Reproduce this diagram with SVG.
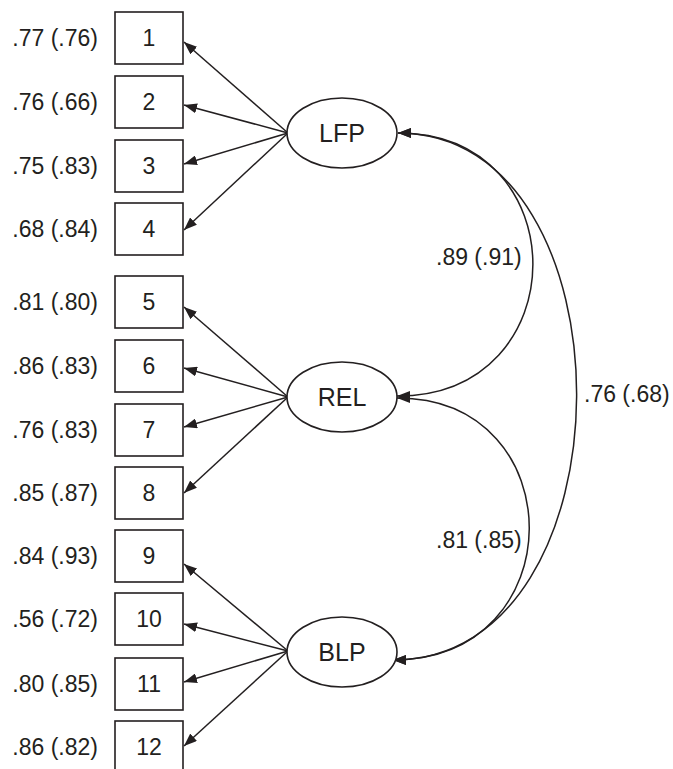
<svg xmlns="http://www.w3.org/2000/svg" width="673" height="769" viewBox="0 0 673 769">
<style>
.box{fill:#fff;stroke:#231f20;stroke-width:1.6}
.lat{fill:#fff;stroke:#231f20;stroke-width:1.6}
.ln{fill:none;stroke:#231f20;stroke-width:1.5}
.t{font-family:"Liberation Sans",Arial,sans-serif;font-size:23px;fill:#231f20}
.lt{font-family:"Liberation Sans",Arial,sans-serif;font-size:25px;fill:#231f20;text-anchor:middle}
.n{text-anchor:middle}
.e{text-anchor:end}
</style>
<defs>
<marker id="ah" viewBox="0 0 13 10" refX="13" refY="5" markerWidth="13" markerHeight="10" markerUnits="userSpaceOnUse" orient="auto-start-reverse">
<path d="M0,0 L13,5 L0,10 z" fill="#231f20"/>
</marker>
</defs>
<rect width="673" height="769" fill="#fff"/>
<g id="connectors" class="ln" marker-end="url(#ah)">
<line x1="288" y1="133" x2="184" y2="42"/>
<line x1="288" y1="133" x2="184" y2="105"/>
<line x1="288" y1="133" x2="184" y2="164"/>
<line x1="288" y1="133" x2="184" y2="230"/>
<line x1="288" y1="397" x2="184" y2="307"/>
<line x1="288" y1="397" x2="184" y2="368"/>
<line x1="288" y1="397" x2="184" y2="427"/>
<line x1="288" y1="397" x2="184" y2="493"/>
<line x1="288" y1="651" x2="184" y2="564"/>
<line x1="288" y1="651" x2="184" y2="624"/>
<line x1="288" y1="651" x2="184" y2="682"/>
<line x1="288" y1="651" x2="184" y2="746"/>
<path d="M398,133 C578,133 578,396 397,396" marker-start="url(#ah)"/>
<path d="M397,398 C574,398 574,660 393,660" marker-start="url(#ah)"/>
<path d="M398,133 C637,133 637,660 393,660" marker-start="url(#ah)"/>
</g>
<g id="cov-labels" class="t">
<text x="436" y="265">.89 (.91)</text>
<text x="436" y="548">.81 (.85)</text>
<text x="584" y="402">.76 (.68)</text>
</g>
<g id="LFP"><ellipse class="lat" cx="342" cy="133" rx="55" ry="35"/><text class="lt" x="342" y="142">LFP</text></g>
<g id="REL"><ellipse class="lat" cx="342" cy="397" rx="55" ry="35"/><text class="lt" x="342" y="406">REL</text></g>
<g id="BLP"><ellipse class="lat" cx="342" cy="652" rx="55" ry="35"/><text class="lt" x="342" y="661">BLP</text></g>
<g id="v1"><rect class="box" x="115" y="12" width="68" height="52"/><text class="t n" x="149" y="46">1</text><text class="t e" x="98" y="46">.77 (.76)</text></g>
<g id="v2"><rect class="box" x="115" y="76" width="68" height="52"/><text class="t n" x="149" y="110">2</text><text class="t e" x="98" y="110">.76 (.66)</text></g>
<g id="v3"><rect class="box" x="115" y="140" width="68" height="52"/><text class="t n" x="149" y="174">3</text><text class="t e" x="98" y="174">.75 (.83)</text></g>
<g id="v4"><rect class="box" x="115" y="203" width="68" height="52"/><text class="t n" x="149" y="237">4</text><text class="t e" x="98" y="237">.68 (.84)</text></g>
<g id="v5"><rect class="box" x="115" y="276" width="68" height="52"/><text class="t n" x="149" y="310">5</text><text class="t e" x="98" y="310">.81 (.80)</text></g>
<g id="v6"><rect class="box" x="115" y="340" width="68" height="52"/><text class="t n" x="149" y="374">6</text><text class="t e" x="98" y="374">.86 (.83)</text></g>
<g id="v7"><rect class="box" x="115" y="404" width="68" height="52"/><text class="t n" x="149" y="438">7</text><text class="t e" x="98" y="438">.76 (.83)</text></g>
<g id="v8"><rect class="box" x="115" y="467" width="68" height="52"/><text class="t n" x="149" y="501">8</text><text class="t e" x="98" y="501">.85 (.87)</text></g>
<g id="v9"><rect class="box" x="115" y="530" width="68" height="52"/><text class="t n" x="149" y="564">9</text><text class="t e" x="98" y="564">.84 (.93)</text></g>
<g id="v10"><rect class="box" x="115" y="593" width="68" height="52"/><text class="t n" x="149" y="627">10</text><text class="t e" x="98" y="627">.56 (.72)</text></g>
<g id="v11"><rect class="box" x="115" y="658" width="68" height="52"/><text class="t n" x="149" y="692">11</text><text class="t e" x="98" y="692">.80 (.85)</text></g>
<g id="v12"><rect class="box" x="115" y="721" width="68" height="60"/><text class="t n" x="149" y="755">12</text><text class="t e" x="98" y="755">.86 (.82)</text></g>
</svg>
